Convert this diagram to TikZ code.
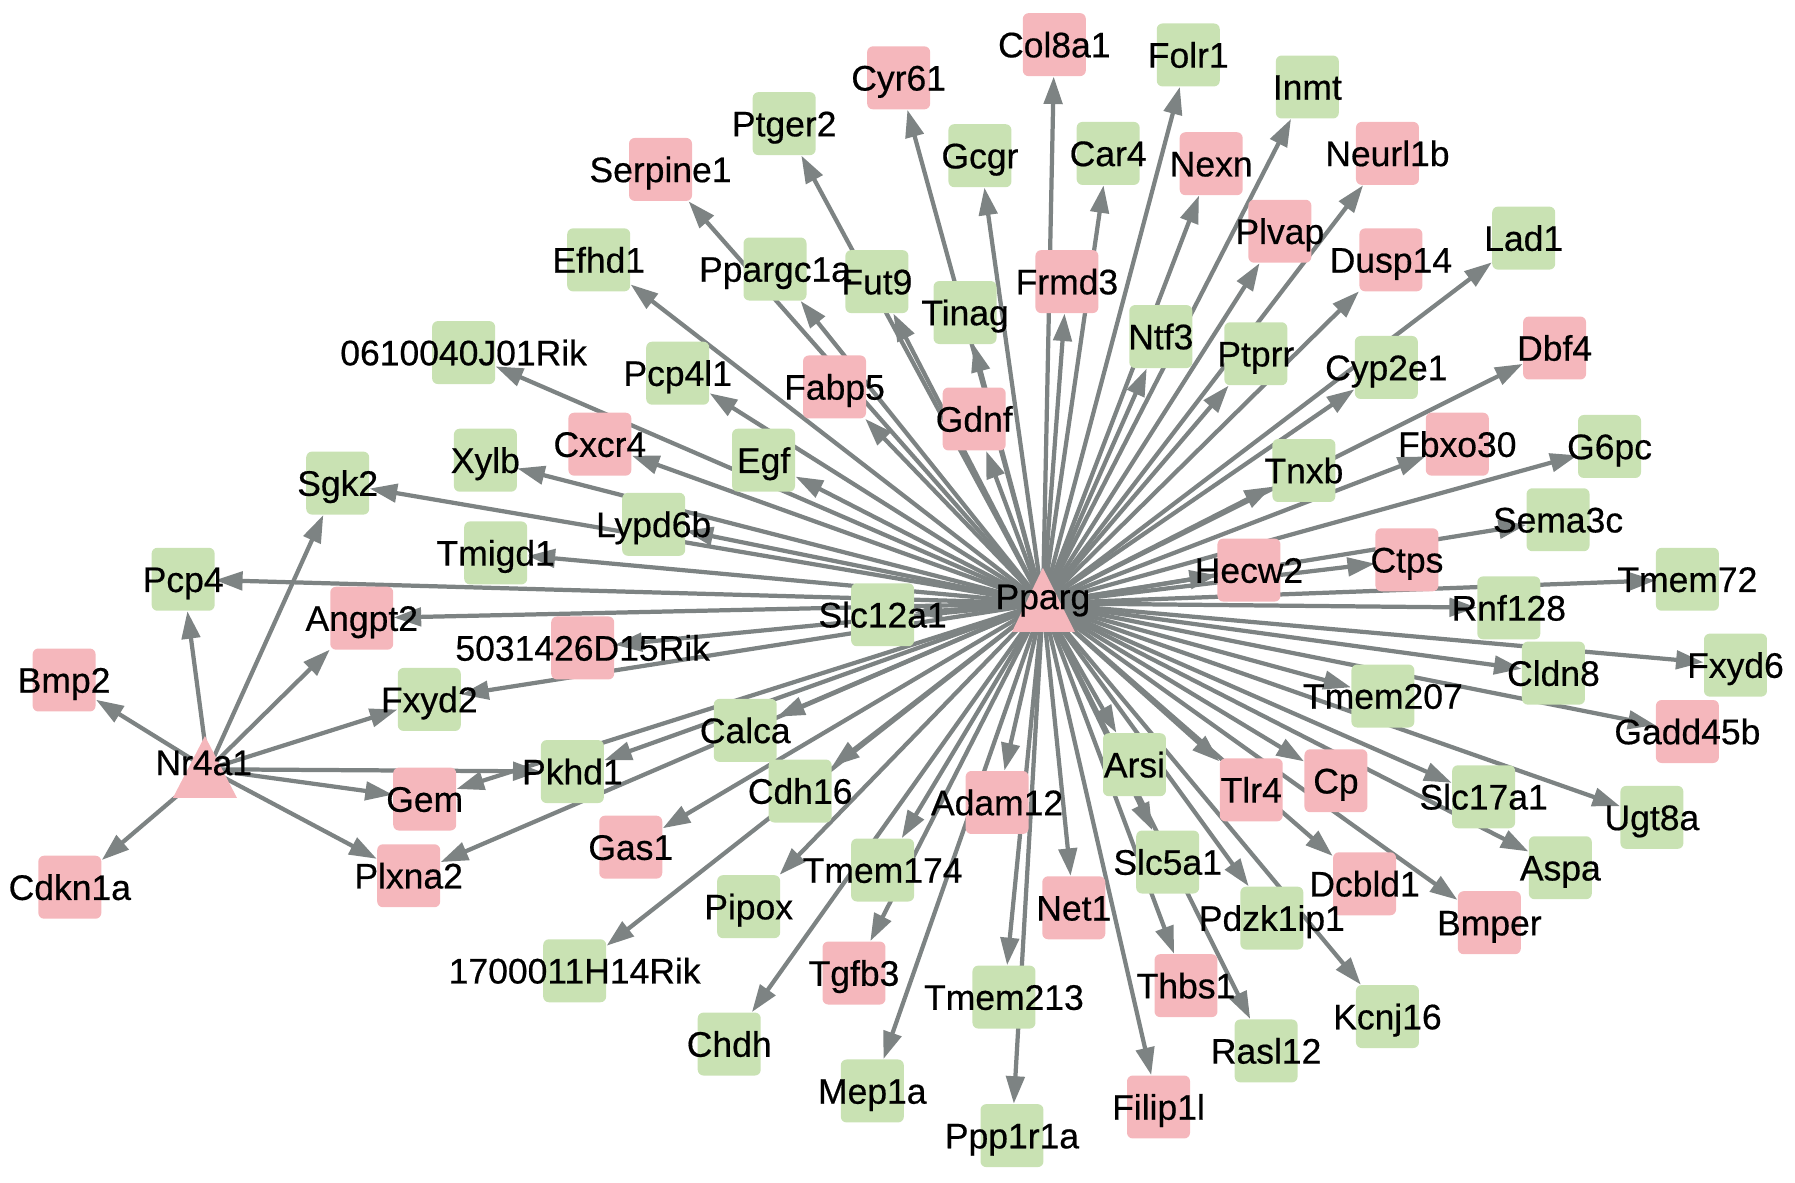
\documentclass[tikz,border=0pt]{standalone}
\usepackage{fontspec}
\setmainfont{Liberation Sans}
\newfontfamily\genefont[FakeBold=0.5]{Liberation Sans}
\usetikzlibrary{arrows.meta}
\definecolor{pk}{RGB}{245,183,188}
\definecolor{gr}{RGB}{201,226,179}
\definecolor{eg}{RGB}{125,131,131}
\pgfdeclarelayer{edgelayer}
\pgfsetlayers{edgelayer,main}
\def\genelist{pk/Col8a1/921/39,
gr/Folr1/1038/48,
pk/Cyr61/785/68,
gr/Inmt/1142/76,
gr/Ptger2/685/108,
gr/Gcgr/856/136,
gr/Car4/968/134,
pk/Nexn/1058/143,
pk/Neurl1b/1212/134,
pk/Serpine1/577/148,
pk/Plvap/1118/202,
pk/Dusp14/1215/227,
gr/Lad1/1331/208,
gr/Efhd1/523/227,
gr/Ppargc1a/677/235,
gr/Fut9/766/246,
pk/Frmd3/932/246,
gr/Tinag/843/273,
gr/Ntf3/1014/294,
gr/Ptprr/1097/309,
gr/Cyp2e1/1211/321,
pk/Dbf4/1358/304,
gr/0610040J01Rik/405/308,
gr/Pcp4l1/592/326,
pk/Fabp5/729/338,
pk/Gdnf/851/366,
pk/Cxcr4/524/388,
gr/Xylb/424/402,
gr/Egf/667/402,
gr/Tnxb/1139/411,
pk/Fbxo30/1273/388,
gr/G6pc/1406/390,
gr/Sgk2/295/422,
gr/Lypd6b/571/458,
gr/Sema3c/1361/454,
gr/Tmigd1/433/483,
pk/Hecw2/1091/498,
pk/Ctps/1229/489,
gr/Tmem72/1474/506,
gr/Pcp4/160/506,
gr/Slc12a1/771/537,
gr/Rnf128/1318/531,
pk/Angpt2/316/540,
pk/5031426D15Rik/509/566,
pk/Bmp2/56/594,
gr/Cldn8/1357/588,
gr/Fxyd6/1516/581,
gr/Fxyd2/375/611,
gr/Tmem207/1208/608,
pk/Gadd45b/1474/639,
gr/Calca/651/638,
gr/Pkhd1/500/674,
gr/Arsi/991/668,
pk/Tlr4/1093/690,
pk/Cp/1167/682,
gr/Cdh16/699/691,
pk/Gem/371/698,
pk/Adam12/871/701,
gr/Slc17a1/1296/696,
gr/Ugt8a/1443/714,
pk/Gas1/551/740,
gr/Tmem174/771/760,
gr/Slc5a1/1020/753,
gr/Aspa/1363/758,
pk/Dcbld1/1192/772,
pk/Cdkn1a/61/775,
pk/Plxna2/357/765,
gr/Pipox/654/792,
pk/Net1/938/793,
gr/Pdzk1ip1/1111/802,
pk/Bmper/1301/806,
gr/1700011H14Rik/502/848,
pk/Tgfb3/746/850,
pk/Thbs1/1036/861,
gr/Tmem213/877/871,
gr/Kcnj16/1212/888,
gr/Chdh/637/912,
gr/Rasl12/1106/918,
gr/Mep1a/762/953,
pk/Filip1l/1012/967,
gr/Ppp1r1a/884/992}
\def\ppargtargets{Col8a1,Folr1,Cyr61,Inmt,Ptger2,Gcgr,Car4,Nexn,Neurl1b,Serpine1,Plvap,Dusp14,Lad1,Efhd1,Ppargc1a,Fut9,Frmd3,Tinag,Ntf3,Ptprr,Cyp2e1,Dbf4,0610040J01Rik,Pcp4l1,Fabp5,Gdnf,Cxcr4,Xylb,Egf,Tnxb,Fbxo30,G6pc,Sgk2,Lypd6b,Sema3c,Tmigd1,Hecw2,Ctps,Tmem72,Pcp4,Slc12a1,Rnf128,Angpt2,5031426D15Rik,Cldn8,Fxyd6,Fxyd2,Tmem207,Gadd45b,Calca,Pkhd1,Arsi,Tlr4,Cp,Cdh16,Gem,Adam12,Slc17a1,Ugt8a,Gas1,Tmem174,Slc5a1,Aspa,Dcbld1,Plxna2,Pipox,Net1,Pdzk1ip1,Bmper,1700011H14Rik,Tgfb3,Thbs1,Tmem213,Kcnj16,Chdh,Rasl12,Mep1a,Filip1l,Ppp1r1a}
\def\nrtargets{Bmp2,Pcp4,Sgk2,Angpt2,Fxyd2,Pkhd1,Gem,Plxna2,Cdkn1a}
\begin{document}
\begin{tikzpicture}[x=0.5pt,y=-0.5pt,
  genebox/.style={rectangle, rounded corners=2.5pt, minimum width=27.5pt, minimum height=27.5pt, inner sep=0pt},
  genelab/.style={inner sep=0pt, text height=11.1pt, text depth=0pt, font=\genefont\fontsize{15.5}{18}\selectfont},
  conn/.style={draw=eg, line width=1.85pt, -{Triangle[length=12pt,width=8pt]}},
  hubtri/.style={fill=pk}]
\useasboundingbox (0,0) rectangle (1568,1033);
% boxes
\foreach \cc/\gn/\xx/\yy in \genelist {
  \node[genebox, fill=\cc] (n\gn) at (\xx,\yy) {};
}
% hubs
\coordinate (pparg) at (911,527);
\coordinate (nr4a1) at (182,672);
\fill[hubtri] (884,552) -- (911,496) -- (939,552) -- cycle;
\fill[hubtri] (151,697) -- (179,643) -- (207,697) -- cycle;
% labels
\foreach \cc/\gn/\xx/\yy in \genelist {
  \node[genelab] (l\gn) at (n\gn) {\gn};
}
\node[genelab] (lpparg) at (911,521) {Pparg};
\node[genelab] (lnr4a1) at (178,666) {Nr4a1};
% edges
\begin{pgfonlayer}{edgelayer}
\foreach \gn in \ppargtargets {
  \draw[conn] (pparg) -- (n\gn);
}
\foreach \gn in \nrtargets {
  \draw[conn] (nr4a1) -- (n\gn);
}
\end{pgfonlayer}
\end{tikzpicture}
\end{document}
